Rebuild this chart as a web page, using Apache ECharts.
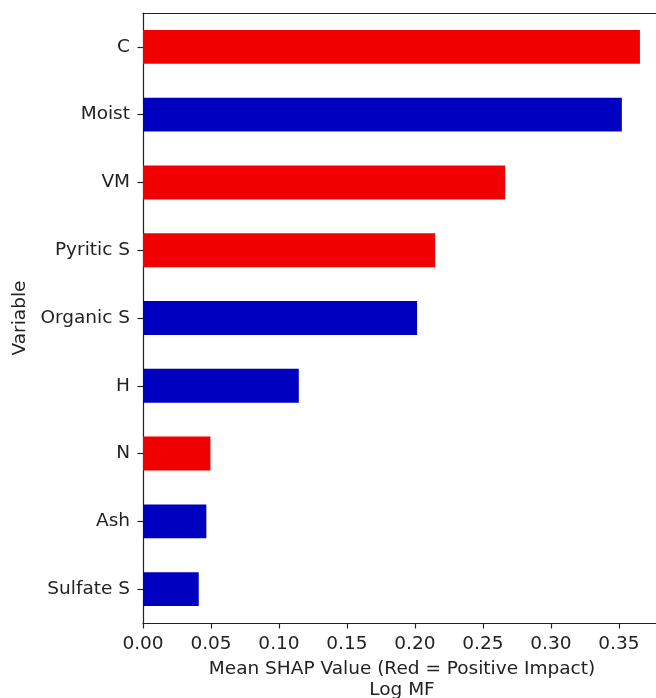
<!DOCTYPE html>
<html lang="en">

<head>
    <meta charset="UTF-8">
    <script src="https://cdn.jsdelivr.net/npm/echarts@6/dist/echarts.min.js"></script>
    <title>Mean SHAP Value - Log MF</title>
    <style>
        html, body { margin: 0; padding: 0; background: #fff; }
        #main { width: 656px; height: 698px; }
    </style>
</head>

<body>
    <div id="main"></div>

    <script>
        // 数据
        var variables = ['C', 'Moist', 'VM', 'Pyritic S', 'Organic S', 'H', 'N', 'Ash', 'Sulfate S'];
        var shapValues = [0.3655, 0.3522, 0.2664, 0.2149, 0.2016, 0.1146, 0.0496, 0.0466, 0.0410];
        var positive = [true, false, true, true, false, false, true, false, false];
        var xTicks = [0, 0.05, 0.10, 0.15, 0.20, 0.25, 0.30, 0.35];

        var RED = '#f00000';
        var BLUE = '#0000c0';
        var FONT = 'DejaVu Sans';
        var FS = 18.5;

        var myChart = echarts.init(document.getElementById('main'));

        var barData = shapValues.map(function (v, i) {
            return { value: v, itemStyle: { color: positive[i] ? RED : BLUE } };
        });

        var option = {
            animation: false,
            backgroundColor: '#fff',
            grid: {
                left: 143,
                top: 13,
                width: 518,
                height: 610,
                outerBoundsMode: 'none',
                containLabel: false
            },
            xAxis: [{
                type: 'value',
                position: 'bottom',
                min: 0,
                max: 0.381,
                interval: xTicks[1] - xTicks[0],
                splitLine: { show: false },
                axisLine: { show: true, lineStyle: { color: '#222', width: 1.2 } },
                axisTick: { show: true, length: 5.5, lineStyle: { color: '#222', width: 1.2 } },
                axisLabel: {
                    showMaxLabel: false,
                    margin: 12,
                    fontFamily: FONT,
                    fontSize: FS,
                    color: '#222',
                    formatter: function (v) { return v.toFixed(2); }
                },
                name: 'Mean SHAP Value (Red = Positive Impact)\nLog MF',
                nameLocation: 'middle',
                nameGap: 35,
                nameTextStyle: { fontFamily: FONT, fontSize: FS, color: '#222', lineHeight: 21 }
            }, {
                // 上边框
                type: 'value',
                position: 'top',
                min: 0,
                max: 0.381,
                splitLine: { show: false },
                axisLine: { show: true, lineStyle: { color: '#222', width: 1.2 } },
                axisTick: { show: false },
                axisLabel: { show: false }
            }],
            yAxis: {
                type: 'category',
                inverse: true,
                data: variables,
                axisLine: { show: true, lineStyle: { color: '#222', width: 1.2 } },
                axisTick: { show: true, length: 5.5, alignWithLabel: true, lineStyle: { color: '#222', width: 1.2 } },
                axisLabel: {
                    margin: 13,
                    fontFamily: FONT,
                    fontSize: FS,
                    color: '#222'
                },
                name: 'Variable',
                nameLocation: 'middle',
                nameGap: 112,
                nameTextStyle: { fontFamily: FONT, fontSize: FS, color: '#222' }
            },
            series: [{
                type: 'bar',
                xAxisIndex: 0,
                barWidth: '50%',
                data: barData
            }]
        };

        myChart.setOption(option);
    </script>
</body>

</html>
